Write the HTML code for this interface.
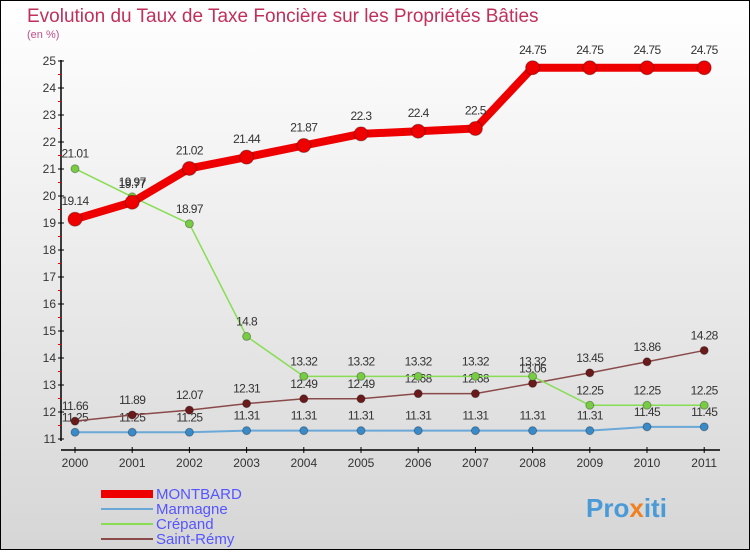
<!DOCTYPE html>
<html><head><meta charset="utf-8"><style>
body{margin:0;width:750px;height:550px;overflow:hidden;font-family:"Liberation Sans",sans-serif}
#c{position:absolute;left:0;top:0;width:748px;height:548px;border:1px solid #000;background:linear-gradient(#fff,#d6d6d6)}
</style></head><body>
<div id="c">
<svg id="s" width="748" height="548" xmlns="http://www.w3.org/2000/svg">
<text x="26" y="21" font-size="19" fill="#c0305a">Evolution du Taux de Taxe Foncière sur les Propriétés Bâties</text>
<text x="26" y="37" font-size="11" fill="#c0508a">(en %)</text>
<g id="axes"></g><g id="series"></g>
<g>
<rect x="100" y="489" width="52" height="8" fill="#e00"/>
<text x="155" y="498" font-size="15" fill="#55f">MONTBARD</text>
<line x1="100" y1="508" x2="152" y2="508" stroke="#6aa8d8" stroke-width="2"/>
<text x="155" y="513" font-size="15" fill="#55f">Marmagne</text>
<line x1="100" y1="523" x2="152" y2="523" stroke="#88dd55" stroke-width="2"/>
<text x="155" y="528" font-size="15" fill="#55f">Crépand</text>
<line x1="100" y1="538" x2="152" y2="538" stroke="#8a4a4a" stroke-width="2"/>
<text x="155" y="543" font-size="15" fill="#55f">Saint-Rémy</text>
</g>
<text x="585" y="516" font-size="26" font-weight="bold" fill="#4a9ad8">Pro<tspan fill="#f08020">x</tspan>iti</text>
</svg></div>
<script>
const years=[2000,2001,2002,2003,2004,2005,2006,2007,2008,2009,2010,2011];
const montbard=[19.14,19.77,21.02,21.44,21.87,22.3,22.4,22.5,24.75,24.75,24.75,24.75];
const marmagne=[11.25,11.25,11.25,11.31,11.31,11.31,11.31,11.31,11.31,11.31,11.45,11.45];
const crepand=[21.01,19.97,18.97,14.8,13.32,13.32,13.32,13.32,13.32,12.25,12.25,12.25];
const saintRemy=[11.66,11.89,12.07,12.31,12.49,12.49,12.68,12.68,13.06,13.45,13.86,14.28];
const yTicks=[11,12,13,14,15,16,17,18,19,20,21,22,23,24,25];
const NS="http://www.w3.org/2000/svg";
const X=i=>74+i*57.2, Y=v=>60+(25-v)*27;
function mk(p,t,a){const e=document.createElementNS(NS,t);for(const k in a)e.setAttribute(k,a[k]);p.appendChild(e);return e;}
const ax=document.getElementById('axes'), sg=document.getElementById('series');
let l=mk(ax,'line',{x1:60,y1:59,x2:60,y2:440,stroke:'#000','stroke-width':1.5});


l=mk(ax,'line',{x1:60,y1:449,x2:719,y2:449,stroke:'#000','stroke-width':1.5});


yTicks.forEach(v=>{mk(ax,'line',{x1:57,y1:Y(v),x2:63,y2:Y(v),stroke:'#000'});
if(v<25)mk(ax,'line',{x1:57,y1:Y(v+0.5),x2:60,y2:Y(v+0.5),stroke:'#e00'});
const t=mk(ax,'text',{x:55,y:Y(v)+4,'text-anchor':'end','font-size':12,fill:'#333'});t.textContent=v;

});
years.forEach((y,i)=>{mk(ax,'line',{x1:X(i),y1:446,x2:X(i),y2:452,stroke:'#000'});
const t=mk(ax,'text',{x:X(i),y:466,'text-anchor':'middle','font-size':12,fill:'#333'});t.textContent=y;

});
function draw(d,name,col,w,r,dot){
const p=mk(sg,'polyline',{points:d.map((v,i)=>X(i)+','+Y(v)).join(' '),fill:'none',stroke:col,'stroke-width':w});


d.forEach((v,i)=>{const c=mk(sg,'circle',{cx:X(i),cy:Y(v),r:r,fill:dot,stroke:'rgba(0,0,0,0.3)'});


const t=mk(sg,'text',{x:X(i),y:Y(v)-r-7,'text-anchor':'middle','font-size':12,fill:'#333','letter-spacing':'-0.6'});t.textContent=v;

});}
draw(marmagne,'marmagne','#6aa8d8',2,4,'#3a8ac8');
draw(saintRemy,'saint-remy','#8a4a4a',1.5,4,'#6a1a1a');
draw(crepand,'crepand','#88dd55',1.5,4,'#77cc44');
draw(montbard,'montbard','#e00',8,7,'#e00');
</script></body></html>
